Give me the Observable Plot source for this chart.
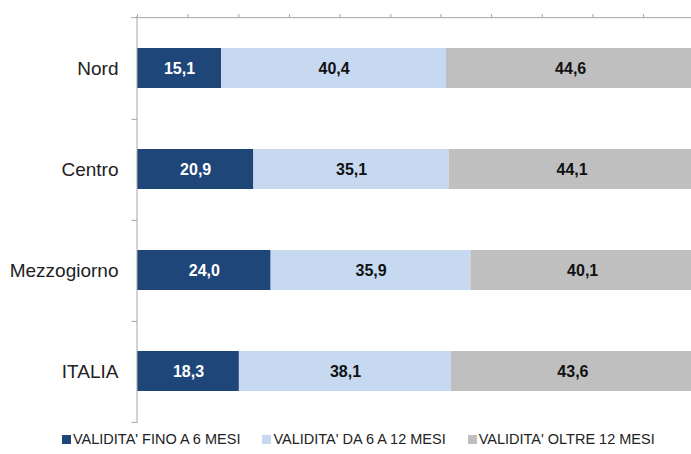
<!DOCTYPE html>
<html>
<head>
<meta charset="utf-8">
<script src="https://cdn.jsdelivr.net/npm/d3@7"></script>
<script src="https://cdn.jsdelivr.net/npm/@observablehq/plot@0.6"></script>
<style>
  html, body { margin: 0; padding: 0; background: #fff; }
  #chart { width: 691px; height: 454px; position: relative; overflow: hidden; }
  .legend { position: absolute; top: 431px; left: 62px; display: flex; font-family: "Liberation Sans", Arial, sans-serif; font-size: 14.5px; color: #222; white-space: nowrap; }
  .legend .item { display: flex; align-items: center; margin-right: 22px; }
  .legend .sw { width: 9px; height: 9px; margin-right: 2px; }
</style>
</head>
<body>
<div id="chart"></div>
<script>
const regions = ["Nord", "Centro", "Mezzogiorno", "ITALIA"];
const seriesNames = ["VALIDITA' FINO A 6 MESI", "VALIDITA' DA 6 A 12 MESI", "VALIDITA' OLTRE 12 MESI"];
const fino6 = [15.1, 20.9, 24.0, 18.3];
const da6a12 = [40.4, 35.1, 35.9, 38.1];
const oltre12 = [44.6, 44.1, 40.1, 43.6];
const colors = ["#1f4679", "#c6d9f1", "#bfbfbf"];
const textColors = ["#ffffff", "#111111", "#111111"];
const axisTicks = [0, 9.1, 18.2, 27.3, 36.4, 45.5, 54.5, 63.6, 72.7, 81.8, 90.9];

const seriesValues = [fino6, da6a12, oltre12];
const data = [];
regions.forEach((r, i) => {
  seriesNames.forEach((s, j) => {
    data.push({region: r, series: s, si: j, value: seriesValues[j][i]});
  });
});

const W = 691, H = 426, mTop = 16, mBottom = 3;
const step = (H - mTop - mBottom) / regions.length;
const fmt = v => v.toFixed(1).replace(".", ",");

const chart = Plot.plot({
  width: W,
  height: H,
  marginLeft: 137,
  marginRight: 0,
  marginTop: mTop,
  marginBottom: mBottom,
  style: {background: "#fff", overflow: "visible"},
  x: {domain: [0, 99.5], axis: null},
  y: {domain: regions, paddingInner: 0.6, paddingOuter: 0.3, align: 0.5, axis: null},
  color: {domain: seriesNames, range: colors},
  marks: [
    Plot.barX(data, Plot.stackX({x: "value", y: "region", z: "series", fill: "series", order: null})),
    Plot.text(data, Plot.stackX({
      x: "value", y: "region", z: "series", order: null,
      text: d => fmt(d.value),
      fill: d => textColors[d.si],
      fontWeight: "bold",
      fontSize: 16,
      fontFamily: "'Liberation Sans', Arial, sans-serif"
    })),
    Plot.text(regions, {
      x: 0, y: d => d, text: d => d, textAnchor: "end", dx: -19,
      fontSize: 19, fill: "#222",
      fontFamily: "'Liberation Sans', Arial, sans-serif"
    }),
    // left axis line
    Plot.ruleX([0], {stroke: "#a6a6a6", strokeWidth: 1, dx: -0.5}),
    // top axis line (extends left as a tick)
    Plot.ruleY([regions[0]], {x1: -1.1, x2: 100, dy: -step / 2, stroke: "#a6a6a6", strokeWidth: 1}),
    // left axis ticks at category boundaries
    Plot.ruleY(regions, {x1: -1.0, x2: 0, dy: step / 2, stroke: "#a6a6a6", strokeWidth: 1}),
    // top axis tick marks
    Plot.axisX(axisTicks, {anchor: "top", tickSize: 3, tickFormat: () => "", label: null, stroke: "#a6a6a6"})
  ]
});

const host = document.getElementById("chart");
host.appendChild(chart);

const legend = document.createElement("div");
legend.className = "legend";
seriesNames.forEach((s, j) => {
  const item = document.createElement("div");
  item.className = "item";
  const sw = document.createElement("span");
  sw.className = "sw";
  sw.style.background = colors[j];
  const t = document.createElement("span");
  t.textContent = s;
  item.appendChild(sw);
  item.appendChild(t);
  legend.appendChild(item);
});
host.appendChild(legend);
</script>
</body>
</html>
